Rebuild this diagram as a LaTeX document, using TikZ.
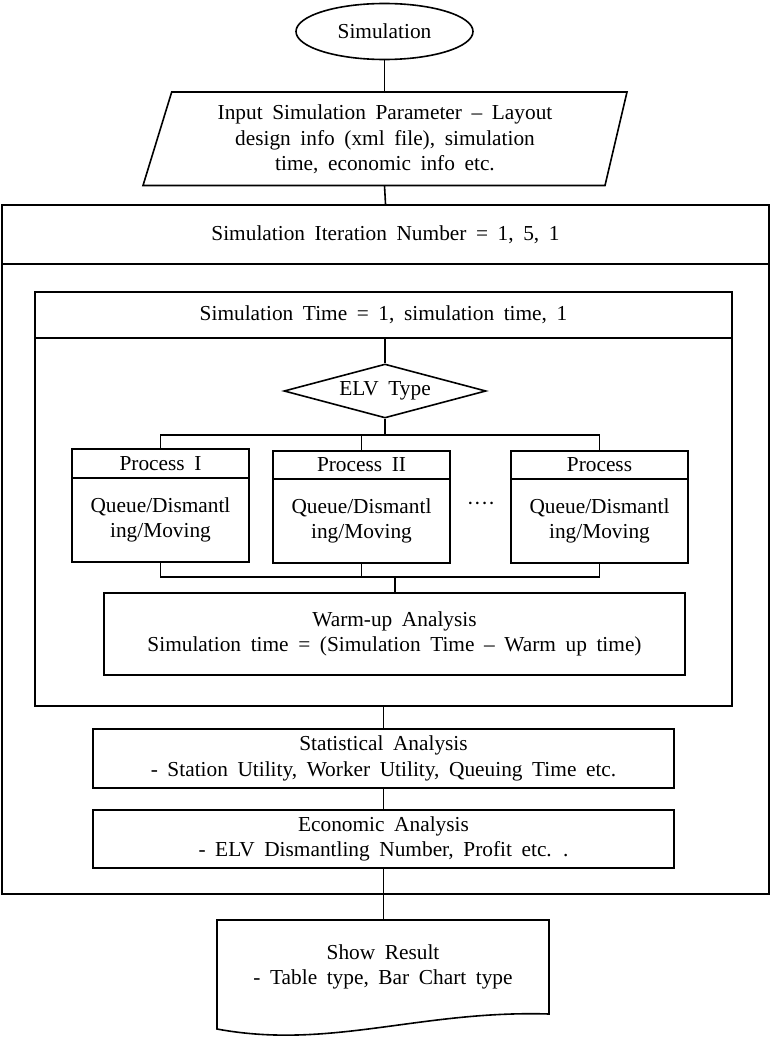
\documentclass[tikz,border=0pt]{standalone}
\usepackage{fontspec}
\setmainfont{Liberation Serif}[WordSpace=1.8]
\usetikzlibrary{shapes.geometric,fit}
\begin{document}
\begin{tikzpicture}[x=0.75pt,y=-0.75pt,line width=1.2pt,
  every node/.style={font=\fontsize{16}{19.2}\selectfont},
  box/.style={draw, inner sep=0pt},
  lbl/.style={inner sep=0pt, align=center},
  thickbox/.style={box, line width=1.8pt},
  procbox/.style={box, line width=1.5pt}]
\useasboundingbox (0,0) rectangle (771,1038);

% start
\node[draw, ellipse, minimum width=132.75pt, minimum height=42pt, inner sep=0pt] (sim) at (384.5,31.5) {Simulation};

% input parallelogram
\coordinate (pTL) at (171.7,92);
\coordinate (pTR) at (627,92);
\coordinate (pBR) at (605,185.5);
\coordinate (pBL) at (143,185.5);
\draw (pTL) -- (pTR) -- (pBR) -- (pBL) -- cycle;
\node[lbl] (input) at (385,139.5) {Input Simulation Parameter – Layout\\design info (xml file), simulation\\time, economic info etc.};
\coordinate (inT) at (384.5,92);
\coordinate (inB) at (384.5,185.5);
\draw (sim.south) -- (inT);

% outer loop
\node[thickbox, fit={(2,205)(769,894)}] (outer) {};
\node[thickbox, fit={(2,205)(769,264)}] (iter) {};
\node[lbl] (iterT) at (iter.center) {Simulation Iteration Number = 1, 5, 1};
\draw (inB) -- (iter.north);

% inner loop
\node[box, line width=1.5pt, fit={(35,292)(732,706)}] (inner) {};
\node[box, line width=1.5pt, fit={(35,292)(732,338)}] (time) {};
\node[lbl] (timeT) at (time.center) {Simulation Time = 1, simulation time, 1};

% decision
\node[draw, diamond, aspect=3.7, minimum width=151.5pt, minimum height=40.5pt, inner sep=0pt] (elv) at (385,391) {ELV Type};
\draw (elv.north |- time.south) -- (elv.north);

% processes
\node[procbox, fit={(72,449)(249,478)}] (p1h) {};
\node[procbox, fit={(72,478)(249,562)}] (p1b) {};
\node[procbox, fit={(273,451)(450,479)}] (p2h) {};
\node[procbox, fit={(273,479)(450,563)}] (p2b) {};
\node[procbox, fit={(511,451)(688,479)}] (p3h) {};
\node[procbox, fit={(511,479)(688,563)}] (p3b) {};
\node[lbl] (p1hT) at (p1h.center) {Process I};
\node[lbl] (p2hT) at (p2h.center) {Process II};
\node[lbl] (p3hT) at (p3h.center) {Process};
\node[lbl] (p1bT) at (p1b.center) {Queue/Dismantl\\ing/Moving};
\node[lbl] (p2bT) at (p2b.center) {Queue/Dismantl\\ing/Moving};
\node[lbl] (p3bT) at (p3b.center) {Queue/Dismantl\\ing/Moving};
\node[lbl] (dots) at (481,506) {····};

% branch lines
\coordinate (br) at (385,435);
\draw (elv.south) -- (br);
\draw (p1h.north) -- (p1h.north |- br) -- (p3h.north |- br) -- (p3h.north);
\draw (p2h.north) -- (p2h.north |- br);

% warm-up
\node[box, fit={(104,593)(685,675)}] (warm) {};
\node[lbl] (warmT) at (warm.center) {Warm-up Analysis\\Simulation time = (Simulation Time – Warm up time)};

% merge lines
\coordinate (mg) at (395,577);
\draw (p1b.south) -- (p1b.south |- mg) -- (p3b.south |- mg) -- (p3b.south);
\draw (p2b.south) -- (p2b.south |- mg);
\draw (mg) -- (mg |- warm.north);

% analyses
\node[box, fit={(93,729)(674,788)}] (stat) {};
\node[lbl] (statT) at (stat.center) {Statistical Analysis\\- Station Utility, Worker Utility, Queuing Time etc.};
\node[box, fit={(93,810)(674,868)}] (econ) {};
\node[lbl] (econT) at (econ.center) {Economic Analysis\\- ELV Dismantling Number, Profit etc. .};
\draw (stat.north |- inner.south) -- (stat.north);
\draw (stat.south) -- (econ.north);

% show result (document shape)
\coordinate (sTL) at (217,920);
\coordinate (sTR) at (549,920);
\coordinate (sBR) at (549,1014);
\coordinate (sBL) at (217,1029);
\coordinate (sTop) at (384,920);
\draw (sTL) -- (sTR) -- (sBR) .. controls (420,1010) and (330,1050) .. (sBL) -- cycle;
\node[lbl] (show) at (383,967) {Show Result\\- Table type, Bar Chart type};
\draw (econ.south) -- (econ.south |- sTop);
\end{tikzpicture}
\end{document}
